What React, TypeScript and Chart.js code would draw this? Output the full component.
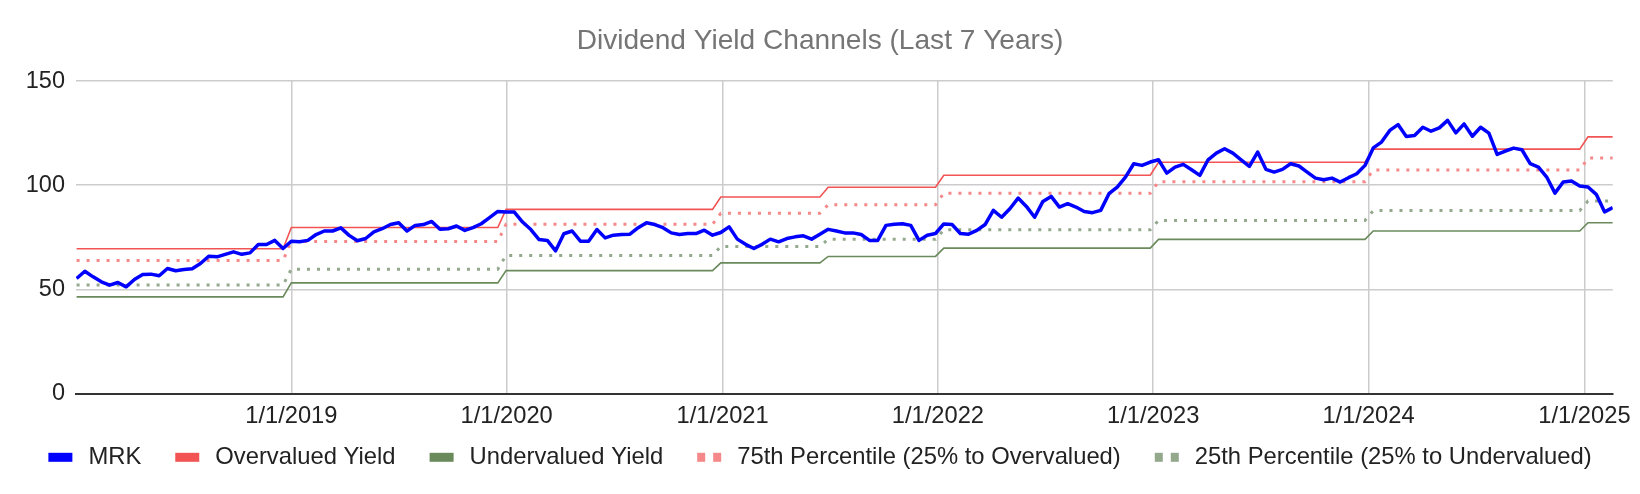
import { useEffect, useRef } from 'react'
import { Chart, registerables } from 'chart.js'

Chart.register(...registerables)

// biweekly observations, first one on 2 Jan 2018
const FIRST_DATE = '2018-01-02'
const STEP_DAYS = 14
const DAY_MS = 86400000

const mrkYield = [
  55.2, 58.7, 56.0, 53.6, 52.0, 53.3, 51.2, 54.7, 57.1, 57.3,
  56.5, 60.0, 58.9, 59.5, 59.9, 62.4, 65.9, 65.6, 66.8, 68.0,
  66.8, 67.5, 71.5, 71.5, 73.5, 69.6, 73.1, 72.8, 73.5, 76.3,
  78.0, 78.0, 79.5, 75.9, 73.3, 74.4, 77.6, 79.1, 81.1, 82.0,
  78.0, 80.7, 81.1, 82.6, 78.8, 79.1, 80.4, 78.3, 79.6, 81.5,
  84.4, 87.4, 87.1, 87.1, 82.3, 78.7, 73.9, 73.5, 68.5, 76.7,
  78.0, 73.1, 73.1, 78.7, 74.7, 76.0, 76.3, 76.5, 79.6, 82.0,
  81.1, 79.6, 77.1, 76.3, 76.8, 76.8, 78.4, 76.0, 77.3, 80.0,
  74.1, 71.6, 69.6, 71.6, 74.1, 72.8, 74.4, 75.2, 75.7, 74.1,
  76.4, 78.8, 78.0, 77.1, 77.1, 76.3, 73.5, 73.5, 80.7, 81.2,
  81.5, 80.7, 73.5, 76.0, 76.8, 81.4, 81.1, 76.8, 76.5, 78.3,
  81.1, 87.9, 84.6, 88.7, 93.8, 89.8, 84.6, 92.2, 94.6, 89.5,
  91.1, 89.5, 87.4, 86.8, 87.9, 95.9, 99.1, 103.9, 110.3, 109.5,
  111.1, 112.2, 105.8, 108.7, 110.0, 107.4, 104.7, 112.2, 115.4, 117.5,
  115.4, 112.2, 109.0, 115.9, 107.6, 106.3, 107.6, 110.3, 109.2, 106.3,
  103.4, 102.6, 103.4, 101.5, 103.6, 105.5, 109.5, 117.9, 120.7, 126.3,
  129.1, 123.4, 123.8, 127.8, 125.9, 127.5, 131.1, 125.1, 129.4, 123.5,
  127.8, 125.0, 114.8, 116.4, 117.8, 117.0, 110.3, 108.7, 103.9, 96.2,
  101.5, 102.0, 99.6, 99.1, 95.6, 87.2, 89.2,
]

// channel levels, each valid from its start date on
const levelStart = ['2018-01-01', '2019-01-01', '2019-12-31', '2020-12-29', '2021-06-20', '2022-01-01', '2023-01-01', '2024-01-01', '2025-01-01']
const overvalued = [69.5, 79.7, 88.4, 94.3, 99.0, 104.8, 111.0, 117.3, 123.2]
const pct75 = [63.9, 73.0, 81.2, 86.5, 90.6, 96.1, 101.7, 107.3, 113.0]
const pct25 = [52.1, 59.7, 66.3, 70.6, 74.0, 78.6, 83.1, 87.8, 92.4]
const undervalued = [46.4, 53.1, 59.0, 62.7, 65.8, 69.8, 74.0, 78.0, 82.0]

const tickYears = [2019, 2020, 2021, 2022, 2023, 2024, 2025]

const FONT = "'Liberation Sans', Arial, Helvetica, sans-serif"

const dates = mrkYield.map((_, i) => Date.parse(FIRST_DATE) + i * STEP_DAYS * DAY_MS)
const levelTimes = levelStart.map(d => Date.parse(d))

function levelIndex(t: number) {
  let j = 0
  levelTimes.forEach((lt, i) => { if (lt <= t) j = i })
  return j
}

const stepSeries = (levels: number[]) => dates.map(t => ({ x: t, y: levels[levelIndex(t)] }))

function dateLabel(v: number) {
  const d = new Date(v)
  return `${d.getUTCMonth() + 1}/${d.getUTCDate()}/${d.getUTCFullYear()}`
}

// sheets-style legend row: solid bar for lines, two squares for dotted ones
const sheetLegend = {
  id: 'sheetLegend',
  afterDraw(chart: any) {
    const { ctx } = chart
    const items = chart.data.datasets.map((ds: any) => ({
      text: ds.label as string,
      color: ds.borderColor as string,
      dotted: Array.isArray(ds.borderDash),
    }))
    const box = 24
    const textGap = 16
    const itemGap = 34
    ctx.save()
    ctx.font = `23.8px ${FONT}`
    ctx.textBaseline = 'middle'
    ctx.textAlign = 'left'
    const widths = items.map((it: any) => box + textGap + ctx.measureText(it.text).width)
    const total = widths.reduce((a: number, b: number) => a + b, 0) + itemGap * (items.length - 1)
    let x = (chart.width - total) / 2
    const y = chart.height - 36.7
    items.forEach((it: any, i: number) => {
      ctx.fillStyle = it.color
      if (it.dotted) {
        ctx.fillRect(x, y - 4.5, 8, 9)
        ctx.fillRect(x + 16, y - 4.5, 8, 9)
      } else {
        ctx.fillRect(x, y - 4.5, box, 9)
      }
      ctx.fillStyle = '#222222'
      ctx.fillText(it.text, x + box + textGap, y)
      x += widths[i] + itemGap
    })
    ctx.restore()
  },
}

export default function App() {
  const chartRef = useRef<HTMLCanvasElement>(null)

  useEffect(() => {
    document.body.style.margin = '0'
    if (!chartRef.current) return

    const chart = new Chart(chartRef.current, {
      type: 'line',
      data: {
        datasets: [
          {
            label: 'MRK',
            data: dates.map((t, i) => ({ x: t, y: mrkYield[i] })),
            borderColor: '#0000ff',
            borderWidth: 3.5,
            borderJoinStyle: 'round',
            pointRadius: 0,
          },
          {
            label: 'Overvalued Yield',
            data: stepSeries(overvalued),
            borderColor: '#f25454',
            borderWidth: 1.6,
            pointRadius: 0,
          },
          {
            label: 'Undervalued Yield',
            data: stepSeries(undervalued),
            borderColor: '#6a8a5c',
            borderWidth: 1.6,
            pointRadius: 0,
          },
          {
            label: '75th Percentile (25% to Overvalued)',
            data: stepSeries(pct75),
            borderColor: '#f58888',
            borderWidth: 3,
            borderDash: [3, 7],
            pointRadius: 0,
          },
          {
            label: '25th Percentile (25% to Undervalued)',
            data: stepSeries(pct25),
            borderColor: '#93a88c',
            borderWidth: 3,
            borderDash: [3, 7],
            pointRadius: 0,
          },
        ],
      },
      options: {
        animation: false,
        responsive: true,
        maintainAspectRatio: false,
        layout: { padding: { left: 0, right: 0, top: 0, bottom: 62.5 } },
        plugins: {
          title: {
            display: true,
            text: 'Dividend Yield Channels (Last 7 Years)',
            color: '#757575',
            font: { family: FONT, size: 28.1, weight: 'normal' },
            padding: { top: 24, bottom: 23.3 },
          },
          legend: { display: false },
          tooltip: { enabled: false },
        },
        scales: {
          x: {
            type: 'linear',
            min: Date.UTC(2018, 0, 1),
            max: dates[dates.length - 1],
            afterBuildTicks: (scale: any) => {
              scale.ticks = tickYears.map(y => ({ value: Date.UTC(y, 0, 1) }))
            },
            afterFit: (scale: any) => {
              scale.height = 38
            },
            ticks: {
              autoSkip: false,
              maxRotation: 0,
              padding: 9,
              color: '#222222',
              font: { family: FONT, size: 23.7 },
              callback: (v: any) => dateLabel(Number(v)),
            },
            grid: { color: '#cccccc', lineWidth: 1.5, drawTicks: false },
            border: { display: true, color: '#333333', width: 2 },
          },
          y: {
            min: 0,
            max: 150,
            afterFit: (scale: any) => {
              scale.width = 76
            },
            ticks: {
              stepSize: 50,
              padding: 11,
              color: '#222222',
              font: { family: FONT, size: 23.5 },
            },
            grid: {
              color: (ctx: any) => (ctx.tick && ctx.tick.value === 0 ? 'rgba(0,0,0,0)' : '#cccccc'),
              lineWidth: 1.5,
              drawTicks: false,
            },
            border: { display: false },
          },
          // empty right-hand axis, only keeps the plot off the right edge
          yRight: {
            type: 'linear',
            position: 'right',
            afterFit: (scale: any) => {
              scale.width = 24
            },
            ticks: { display: false },
            grid: { display: false },
            border: { display: false },
          },
        },
      },
      plugins: [sheetLegend],
    })

    return () => {
      chart.destroy()
    }
  }, [])

  return (
    <div style={{ position: 'relative', width: 1640, height: 494 }}>
      <canvas ref={chartRef} />
    </div>
  )
}
